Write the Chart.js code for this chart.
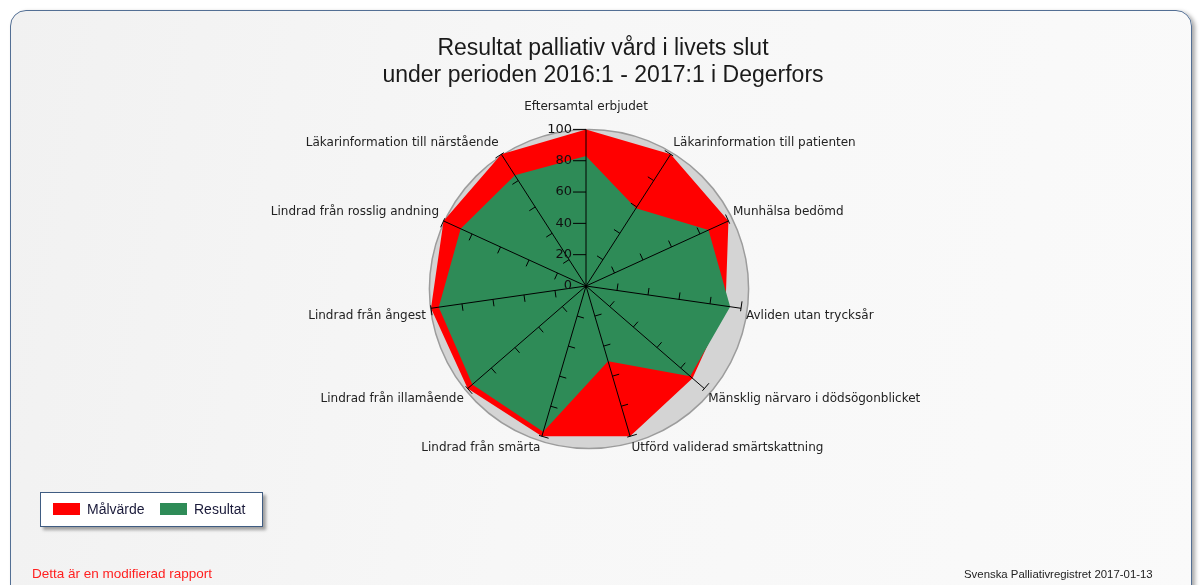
<!DOCTYPE html>
<html>
<head>
<meta charset="utf-8">
<script src="https://cdn.jsdelivr.net/npm/chart.js@4.4.1/dist/chart.umd.min.js"></script>
<style>
html,body{margin:0;padding:0;background:#fff;width:1203px;height:585px;overflow:hidden;font-family:"Liberation Sans",Arial,sans-serif;}
#box{position:absolute;left:10px;top:10px;width:1180px;height:640px;border:1.5px solid #536f94;border-radius:16px;
 background:linear-gradient(100deg,#f1f1f1 0%,#f7f7f7 45%,#fafafa 100%);box-shadow:3px 2px 4px rgba(0,0,0,0.35);}
#wrap{position:absolute;left:0;top:0;width:1203px;height:585px;}
#title{position:absolute;left:303px;width:600px;top:34px;text-align:center;font-size:23px;line-height:27px;color:#1a1a1a;white-space:nowrap;}
#legend{position:absolute;left:40px;top:492px;width:221px;height:33px;background:#fff;border:1.5px solid #3f5c82;
 box-shadow:3px 3px 3px rgba(0,0,0,0.35);font-size:14px;color:#1a1a3a;}
.item{position:absolute;top:0;height:33px;line-height:33px;white-space:nowrap;}
.sw{display:inline-block;width:27px;height:12px;vertical-align:middle;margin-right:7px;position:relative;top:-1px;}
#foot1{position:absolute;left:32px;top:566px;font-size:13.5px;color:#ff1f1f;white-space:nowrap;}
#foot2{position:absolute;left:964px;top:568px;font-size:11.4px;color:#222;white-space:nowrap;}
</style>
</head>
<body>
<div id="box"></div>
<div id="wrap"><canvas id="c" width="1203" height="585"></canvas></div>
<div id="title"></div>
<div id="legend"></div>
<div id="foot1">Detta är en modifierad rapport</div>
<div id="foot2">Svenska Palliativregistret 2017-01-13</div>
<script>
const titleLines = ["Resultat palliativ vård i livets slut", "under perioden 2016:1 - 2017:1 i Degerfors"];
const categories = [
  "Eftersamtal erbjudet",
  "Läkarinformation till patienten",
  "Munhälsa bedömd",
  "Avliden utan trycksår",
  "Mänsklig närvaro i dödsögonblicket",
  "Utförd validerad smärtskattning",
  "Lindrad från smärta",
  "Lindrad från illamående",
  "Lindrad från ångest",
  "Lindrad från rosslig andning",
  "Läkarinformation till närstående"
];
const malvarde = [100, 100, 100, 90, 90, 100, 100, 100, 100, 100, 100];
const resultat = [83, 59, 86, 93, 88, 50, 97, 96, 95, 88, 84];
const tickValues = [0, 20, 40, 60, 80, 100];
const seriesNames = ["Målvärde", "Resultat"];
const seriesColors = ["#ff0000", "#2e8b57"];

document.getElementById('title').innerHTML = titleLines.map(t => '<div>' + t + '</div>').join('');

const bgDisc = {
  id: 'bgDisc',
  beforeDatasetsDraw(chart) {
    const s = chart.scales.r, ctx = chart.ctx;
    ctx.save();
    ctx.beginPath();
    ctx.arc(s.xCenter + 3, s.yCenter + 3, s.drawingArea + 3, 0, Math.PI * 2);
    ctx.fillStyle = '#d4d4d4';
    ctx.fill();
    ctx.lineWidth = 1.5;
    ctx.strokeStyle = '#9c9c9c';
    ctx.stroke();
    ctx.restore();
  }
};

const axisTicks = {
  id: 'axisTicks',
  afterDraw(chart) {
    const s = chart.scales.r, ctx = chart.ctx;
    ctx.save();
    ctx.strokeStyle = '#000';
    ctx.lineWidth = 1;
    for (let i = 0; i < categories.length; i++) {
      const a = s.getIndexAngle(i) - Math.PI / 2;
      const ux = Math.cos(a), uy = Math.sin(a);
      const px = uy, py = -ux;
      const len = i === 0 ? 13 : 7;
      tickValues.forEach(v => {
        if (v === 0) return;
        const p = s.getPointPositionForValue(i, v);
        const back = (v === 100 && i !== 0) ? 3 : 0;
        ctx.beginPath();
        ctx.moveTo(p.x - px * back, p.y - py * back);
        ctx.lineTo(p.x + px * len, p.y + py * len);
        ctx.stroke();
      });
    }
    ctx.font = '13px "DejaVu Sans"';
    ctx.fillStyle = '#111';
    ctx.textAlign = 'right';
    ctx.textBaseline = 'middle';
    tickValues.forEach(v => {
      const p = s.getPointPositionForValue(0, v);
      ctx.fillText(String(v), p.x - 14, p.y);
    });
    ctx.restore();
  }
};

const chart = new Chart(document.getElementById('c'), {
  type: 'radar',
  data: {
    labels: categories,
    datasets: [
      { label: seriesNames[0], data: malvarde, backgroundColor: seriesColors[0], borderWidth: 0, pointRadius: 0, fill: true, order: 2 },
      { label: seriesNames[1], data: resultat, backgroundColor: seriesColors[1], borderWidth: 0, pointRadius: 0, fill: true, order: 1 }
    ]
  },
  options: {
    responsive: false,
    animation: false,
    layout: { padding: { top: 91, bottom: 121, left: 0, right: 31 } },
    plugins: {
      legend: { display: false },
      tooltip: { enabled: false },
      title: { display: false }
    },
    elements: { line: { tension: 0 } },
    scales: {
      r: {
        min: 0, max: 100,
        ticks: { display: false, stepSize: 20 },
        grid: { display: false, z: 1 },
        angleLines: { display: true, color: '#000', lineWidth: 1 },
        pointLabels: {
          display: true,
          color: '#222',
          padding: ctx => ctx.index === 0 ? 15 : 5,
          font: { family: '"DejaVu Sans"', size: 12 }
        }
      }
    }
  },
  plugins: [bgDisc, axisTicks]
});

// legend built from chart datasets
const lg = document.getElementById('legend');
const lefts = [12, 119];
chart.data.datasets.forEach((ds, k) => {
  const d = document.createElement('div');
  d.className = 'item';
  d.style.left = lefts[k] + 'px';
  const sw = document.createElement('span');
  sw.className = 'sw';
  sw.style.background = ds.backgroundColor;
  d.appendChild(sw);
  d.appendChild(document.createTextNode(ds.label));
  lg.appendChild(d);
});
</script>
</body>
</html>
